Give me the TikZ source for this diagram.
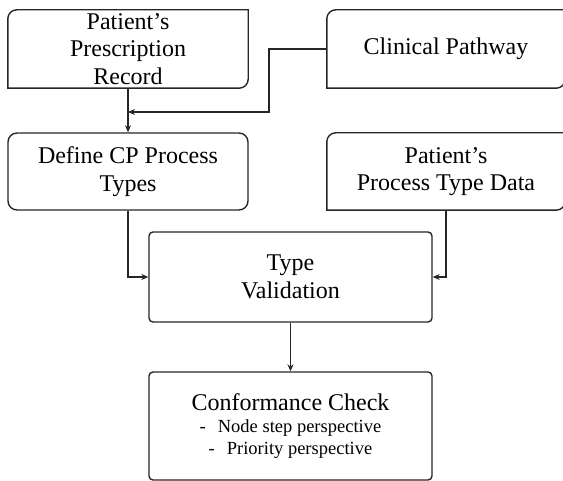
\documentclass[tikz,border=0pt]{standalone}
\usepackage{fontspec}
\setmainfont{Liberation Serif}
\usetikzlibrary{arrows.meta,
  calc,
  positioning
}
\tikzstyle{textbox} = [inner sep=0pt, align=center, text=black,
  font={\fontsize{24pt}{27.5pt}\selectfont}]
\tikzstyle{outline} = [line width=1.4pt, black!85]
\tikzstyle{flowline} = [line width=1.4pt, black!85,
  -{Stealth[length=7pt,width=6pt]}]

\begin{document}
\begin{tikzpicture}
  \useasboundingbox (0,0) rectangle (563pt,-481pt);

  \node[textbox, minimum width=240pt, minimum height=78pt] (presc) at (128pt,-49pt) {Patient's\\Prescription\\Record};
  \node[textbox, minimum width=238pt, minimum height=78pt] (clin) at (446pt,-49pt) {Clinical Pathway};

  \node[textbox, outline, draw, text=black, rounded corners=9pt, minimum width=240pt, minimum height=77pt] (define) at (128pt,-171.5pt) {Define CP Process\\Types};
  \node[textbox, minimum width=238pt, minimum height=77pt] (ptdata) at (446pt,-171.5pt) {Patient's\\Process Type Data};

  \node[textbox, outline, draw, text=black, rounded corners=4pt, minimum width=283pt, minimum height=90pt] (valid) at (290.5pt,-277pt) {Type\\Validation};
  \node[textbox, outline, draw, text=black, rounded corners=4pt, minimum width=283pt, minimum height=108pt] (conf) at (290.5pt,-426pt)
    {Conformance Check\\[-5.5pt]
     {\fontsize{18.5pt}{22pt}\selectfont -\hspace{12pt}Node step perspective}\\[-5.5pt]
     {\fontsize{18.5pt}{22pt}\selectfont -\hspace{12pt}Priority perspective}};

  % boxes with two round corners
  \draw[outline] ([yshift=-9pt]presc.north west) arc[start angle=180, end angle=90, radius=9pt] -- (presc.north east)
    -- ([yshift=9pt]presc.south east) arc[start angle=0, end angle=-90, radius=9pt] -- (presc.south west) -- cycle;
  \draw[outline] ([yshift=-9pt]clin.north west) arc[start angle=180, end angle=90, radius=9pt] -- (clin.north east)
    -- ([yshift=9pt]clin.south east) arc[start angle=0, end angle=-90, radius=9pt] -- (clin.south west) -- cycle;
  \draw[outline] ([yshift=-9pt]ptdata.north west) arc[start angle=180, end angle=90, radius=9pt] -- (ptdata.north east)
    -- ([yshift=9pt]ptdata.south east) arc[start angle=0, end angle=-90, radius=9pt] -- (ptdata.south west) -- cycle;

  \coordinate (merge) at (128pt,-112pt);
  \draw[flowline] (presc.south) -- (define.north);
  \draw[flowline] (clin.west) -- ++(-58pt,0) |- (merge);
  \draw[flowline] (define.south) |- (valid.west);
  \draw[flowline] (ptdata.south) |- (valid.east);
  \draw[flowline] (valid.south) -- (conf.north);
\end{tikzpicture}
\end{document}
